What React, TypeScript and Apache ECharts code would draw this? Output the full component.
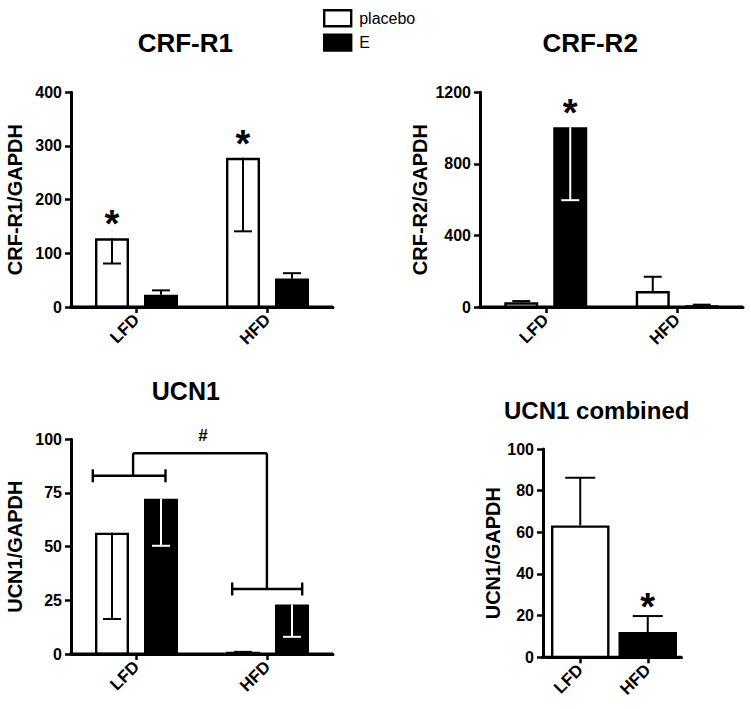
import React, { useEffect, useRef } from "react";
import * as echarts from "echarts";

const FONT = "'Liberation Sans', Arial, Helvetica, sans-serif";

// ---------- data ----------
const categories = ["LFD", "HFD"];
const seriesNames = ["placebo", "E"];

// CRF-R1
const crfR1Placebo = [128, 278];
const crfR1PlaceboErr = [81, 141];
const crfR1E = [23, 53];
const crfR1EErr = [31, 63];
const crfR1Axis = [0, 400, 100];

// CRF-R2
const crfR2Placebo = [26, 89];
const crfR2PlaceboErr = [33, 169];
const crfR2E = [1005, 10];
const crfR2EErr = [597, 13];
const crfR2Axis = [0, 1200, 400];

// UCN1
const ucn1Placebo = [56.5, 1];
const ucn1PlaceboErr = [16.3, 1];
const ucn1E = [72.3, 23];
const ucn1EErr = [50.4, 8];
const ucn1Axis = [0, 100, 25];
const ucn1BracketLevels = [83, 30.3];
const ucn1BracketTop = 93.5;

// UCN1 combined
const ucn1CombinedValues = [63.3, 12.1];
const ucn1CombinedErr = [86.2, 19.8];
const ucn1CombinedAxis = [0, 100, 20];

// significance marks: [categoryIndex, seriesIndex]
const crfR1Stars = [[0, 0], [1, 0]];
const crfR2Stars = [[0, 1]];
const ucn1CombinedStars = [[1, 0]];

// ---------- styles ----------
const WHITE = { fill: "#ffffff", stroke: "#000000" };
const BLACK = { fill: "#000000", stroke: "#000000" };
const BORDER = 2.4;
const BAR_W = 34;
const BAR_GAP_PX = 15;
const PAIR_OFFSET = (BAR_W + BAR_GAP_PX) / 2;
const AXIS_W = 3;

const grids = [
  { left: 71, top: 92.3, width: 262, height: 214.7 },
  { left: 480, top: 92.3, width: 263, height: 214.7 },
  { left: 71, top: 439.3, width: 262, height: 214.7 },
  { left: 546.5, top: 449, width: 135, height: 208.3 },
];

function xAxisFor(gi: number) {
  return {
    type: "category",
    gridIndex: gi,
    data: categories,
    axisLine: { show: true, lineStyle: { color: "#000000", width: AXIS_W } },
    axisTick: { show: true, alignWithLabel: true, length: 6, lineStyle: { color: "#000000", width: 2.5 } },
    axisLabel: {
      rotate: 45,
      interval: 0,
      margin: 10,
      color: "#000",
      fontSize: 17,
      fontWeight: "bold",
      fontFamily: FONT,
    },
    splitLine: { show: false },
  };
}

function yAxisFor(gi: number, axis: number[], name: string, nameGap: number, offset = 0) {
  return {
    type: "value",
    gridIndex: gi,
    min: axis[0],
    max: axis[1],
    interval: axis[2],
    offset,
    name,
    nameLocation: "middle",
    nameGap,
    nameTextStyle: { color: "#000", fontSize: 20, fontWeight: "bold", fontFamily: FONT },
    axisLine: { show: true, lineStyle: { color: "#000000", width: AXIS_W } },
    axisTick: { show: true, length: 6, lineStyle: { color: "#000000", width: 2.5 } },
    axisLabel: {
      color: "#000",
      fontSize: 16,
      fontWeight: "bold",
      fontFamily: FONT,
      margin: 9,
      formatter: (v: number) => String(v),
    },
    splitLine: { show: false },
  };
}

// bars drawn through the axes' scales; the bottom edge sits on the axis line
function barSeries(name: string, gi: number, values: number[], styles: any[], offset: number, barWidth = BAR_W) {
  return {
    name,
    type: "custom",
    xAxisIndex: gi,
    yAxisIndex: gi,
    silent: true,
    clip: false,
    z: 2,
    data: values.map((v, i) => [i, v]),
    renderItem: (_p: any, api: any) => {
      const c = api.value(0);
      const top = api.coord([c, api.value(1)]);
      const base = api.coord([c, 0]);
      const cx = top[0] + offset;
      const st = styles[c] || styles[0];
      return {
        type: "rect",
        shape: {
          x: cx - barWidth / 2 + BORDER / 2,
          y: top[1] + BORDER / 2,
          width: barWidth - BORDER,
          height: Math.max(base[1] - top[1] - BORDER / 2, 0.5),
        },
        style: { fill: st.fill, stroke: st.stroke, lineWidth: BORDER },
      };
    },
  };
}

function errSeries(gi: number, values: number[], errs: number[], offset: number, dark: boolean, capHalf = 9) {
  return {
    type: "custom",
    xAxisIndex: gi,
    yAxisIndex: gi,
    silent: true,
    clip: false,
    z: 5,
    data: values.map((v, i) => [i, v, errs[i]]),
    renderItem: (_p: any, api: any) => {
      const c = api.value(0);
      const v = api.value(1);
      const e = api.value(2);
      const p0 = api.coord([c, v]);
      const p1 = api.coord([c, e]);
      const x = p0[0] + offset;
      const stroke = dark && e < v ? "#ffffff" : "#000000";
      return {
        type: "group",
        children: [
          { type: "line", shape: { x1: x, y1: p0[1], x2: x, y2: p1[1] }, style: { stroke, lineWidth: 2 } },
          { type: "line", shape: { x1: x - capHalf, y1: p1[1], x2: x + capHalf, y2: p1[1] }, style: { stroke, lineWidth: 2 } },
        ],
      };
    },
  };
}

function starSeries(gi: number, stars: number[][], tops: number[][], offsets: number[], lift: number) {
  return {
    type: "custom",
    xAxisIndex: gi,
    yAxisIndex: gi,
    silent: true,
    clip: false,
    z: 6,
    data: stars.map(([c, s]) => [c, tops[s][c], s]),
    renderItem: (_p: any, api: any) => {
      const c = api.value(0);
      const pt = api.coord([c, api.value(1)]);
      const s = api.value(2);
      return {
        type: "text",
        x: pt[0] + offsets[s],
        y: pt[1] - lift,
        style: {
          text: "*",
          fill: "#000",
          fontSize: 38,
          fontWeight: "bold",
          fontFamily: FONT,
          align: "center",
          verticalAlign: "middle",
        },
      };
    },
  };
}

// the axis baseline drawn above the bars, as in the reference
function baselineSeries(gi: number, offsetLeft = 0) {
  return {
    type: "custom",
    xAxisIndex: gi,
    yAxisIndex: gi,
    silent: true,
    clip: false,
    z: 7,
    data: [[0, 0]],
    renderItem: (params: any, api: any) => {
      const cs = params.coordSys;
      const y = api.coord([0, 0])[1];
      return {
        type: "line",
        shape: { x1: cs.x - offsetLeft - 1.5, y1: y, x2: cs.x + cs.width, y2: y },
        style: { stroke: "#000", lineWidth: AXIS_W },
      };
    },
  };
}

function bracketSeries(gi: number) {
  return {
    type: "custom",
    xAxisIndex: gi,
    yAxisIndex: gi,
    silent: true,
    clip: false,
    z: 6,
    data: [[0, ucn1BracketLevels[0], ucn1BracketLevels[1], ucn1BracketTop]],
    renderItem: (_p: any, api: any) => {
      const a = api.coord([0, api.value(1)]);
      const b = api.coord([1, api.value(2)]);
      const t = api.coord([0, api.value(3)]);
      const st = { stroke: "#000", lineWidth: 2.4 };
      const aStem = a[0] - 3.4;
      const bStem = b[0] - 0.6;
      const line = (x1: number, y1: number, x2: number, y2: number) => ({
        type: "line",
        shape: { x1, y1, x2, y2 },
        style: st,
      });
      return {
        type: "group",
        children: [
          line(a[0] - 43.7, a[1], a[0] + 29, a[1]),
          line(a[0] - 43.7, a[1] - 6.5, a[0] - 43.7, a[1] + 6.5),
          line(a[0] + 29, a[1] - 6.5, a[0] + 29, a[1] + 6.5),
          line(aStem, a[1], aStem, t[1]),
          line(aStem, t[1], bStem, t[1]),
          line(bStem, t[1], bStem, b[1]),
          line(b[0] - 35.3, b[1], b[0] + 34.7, b[1]),
          line(b[0] - 35.3, b[1] - 6.5, b[0] - 35.3, b[1] + 6.5),
          line(b[0] + 34.7, b[1] - 6.5, b[0] + 34.7, b[1] + 6.5),
          {
            type: "text",
            x: (aStem + bStem) / 2 + 3,
            y: t[1] - 18,
            style: {
              text: "#",
              fill: "#000",
              fontSize: 17,
              fontWeight: "bold",
              fontFamily: FONT,
              align: "center",
              verticalAlign: "middle",
            },
          },
        ],
      };
    },
  };
}

function titleText(text: string, x: number, y: number, size: number) {
  return {
    type: "text",
    x,
    y,
    silent: true,
    style: {
      text,
      fill: "#000",
      fontSize: size,
      fontWeight: "bold",
      fontFamily: FONT,
      align: "center",
      verticalAlign: "middle",
    },
  };
}

export default function App() {
  const ref = useRef<HTMLDivElement>(null);

  useEffect(() => {
    if (!ref.current) return;
    const chart = echarts.init(ref.current, undefined, { renderer: "svg" });
    const offs = [-PAIR_OFFSET, PAIR_OFFSET];

    const option: any = {
      animation: false,
      backgroundColor: "#ffffff",
      textStyle: { fontFamily: FONT },
      legend: {
        orient: "vertical",
        left: 323,
        top: 9,
        itemWidth: 27,
        itemHeight: 16,
        itemGap: 6,
        padding: 0,
        selectedMode: false,
        textStyle: { color: "#000", fontSize: 16, fontFamily: FONT, padding: [0, 0, 0, 3] },
        data: [
          {
            name: seriesNames[0],
            icon: "rect",
            itemStyle: { color: "#ffffff", borderColor: "#000000", borderWidth: BORDER },
          },
          {
            name: seriesNames[1],
            icon: "rect",
            itemStyle: { color: "#000000", borderColor: "#000000", borderWidth: BORDER },
          },
        ],
      },
      grid: grids,
      xAxis: [xAxisFor(0), xAxisFor(1), xAxisFor(2), xAxisFor(3)],
      yAxis: [
        yAxisFor(0, crfR1Axis, "CRF-R1/GAPDH", 46),
        yAxisFor(1, crfR2Axis, "CRF-R2/GAPDH", 50),
        yAxisFor(2, ucn1Axis, "UCN1/GAPDH", 46),
        yAxisFor(3, ucn1CombinedAxis, "UCN1/GAPDH", 38, 3.5),
      ],
      series: [
        // CRF-R1
        barSeries(seriesNames[0], 0, crfR1Placebo, [WHITE], -PAIR_OFFSET),
        barSeries(seriesNames[1], 0, crfR1E, [BLACK], PAIR_OFFSET),
        errSeries(0, crfR1Placebo, crfR1PlaceboErr, -PAIR_OFFSET, false),
        errSeries(0, crfR1E, crfR1EErr, PAIR_OFFSET, true),
        starSeries(0, crfR1Stars, [crfR1Placebo, crfR1E], offs, 14),
        baselineSeries(0),
        // CRF-R2
        barSeries(seriesNames[0], 1, crfR2Placebo, [WHITE], -PAIR_OFFSET),
        barSeries(seriesNames[1], 1, crfR2E, [BLACK], PAIR_OFFSET),
        errSeries(1, crfR2Placebo, crfR2PlaceboErr, -PAIR_OFFSET, false),
        errSeries(1, crfR2E, crfR2EErr, PAIR_OFFSET, true),
        starSeries(1, crfR2Stars, [crfR2Placebo, crfR2E], offs, 14),
        baselineSeries(1),
        // UCN1
        barSeries(seriesNames[0], 2, ucn1Placebo, [WHITE], -PAIR_OFFSET),
        barSeries(seriesNames[1], 2, ucn1E, [BLACK], PAIR_OFFSET),
        errSeries(2, ucn1Placebo, ucn1PlaceboErr, -PAIR_OFFSET, false),
        errSeries(2, ucn1E, ucn1EErr, PAIR_OFFSET, true),
        bracketSeries(2),
        baselineSeries(2),
        // UCN1 combined (LFD white, HFD black)
        barSeries("UCN1 combined", 3, ucn1CombinedValues, [WHITE, BLACK], 0, 58.5),
        errSeries(3, ucn1CombinedValues, ucn1CombinedErr, 0, true, 15),
        starSeries(3, ucn1CombinedStars, [ucn1CombinedErr], [0], 9),
        baselineSeries(3, 3.5),
      ],
      graphic: [
        titleText("CRF-R1", 185.3, 43.3, 26),
        titleText("CRF-R2", 590.2, 43.3, 26),
        titleText("UCN1", 185.8, 390.5, 25),
        titleText("UCN1 combined", 596.7, 410.3, 24),
      ],
    };

    chart.setOption(option);
    return () => chart.dispose();
  }, []);

  return (
    <div
      ref={ref}
      style={{ position: "fixed", left: 0, top: 0, width: 751, height: 709, background: "#fff" }}
    />
  );
}
